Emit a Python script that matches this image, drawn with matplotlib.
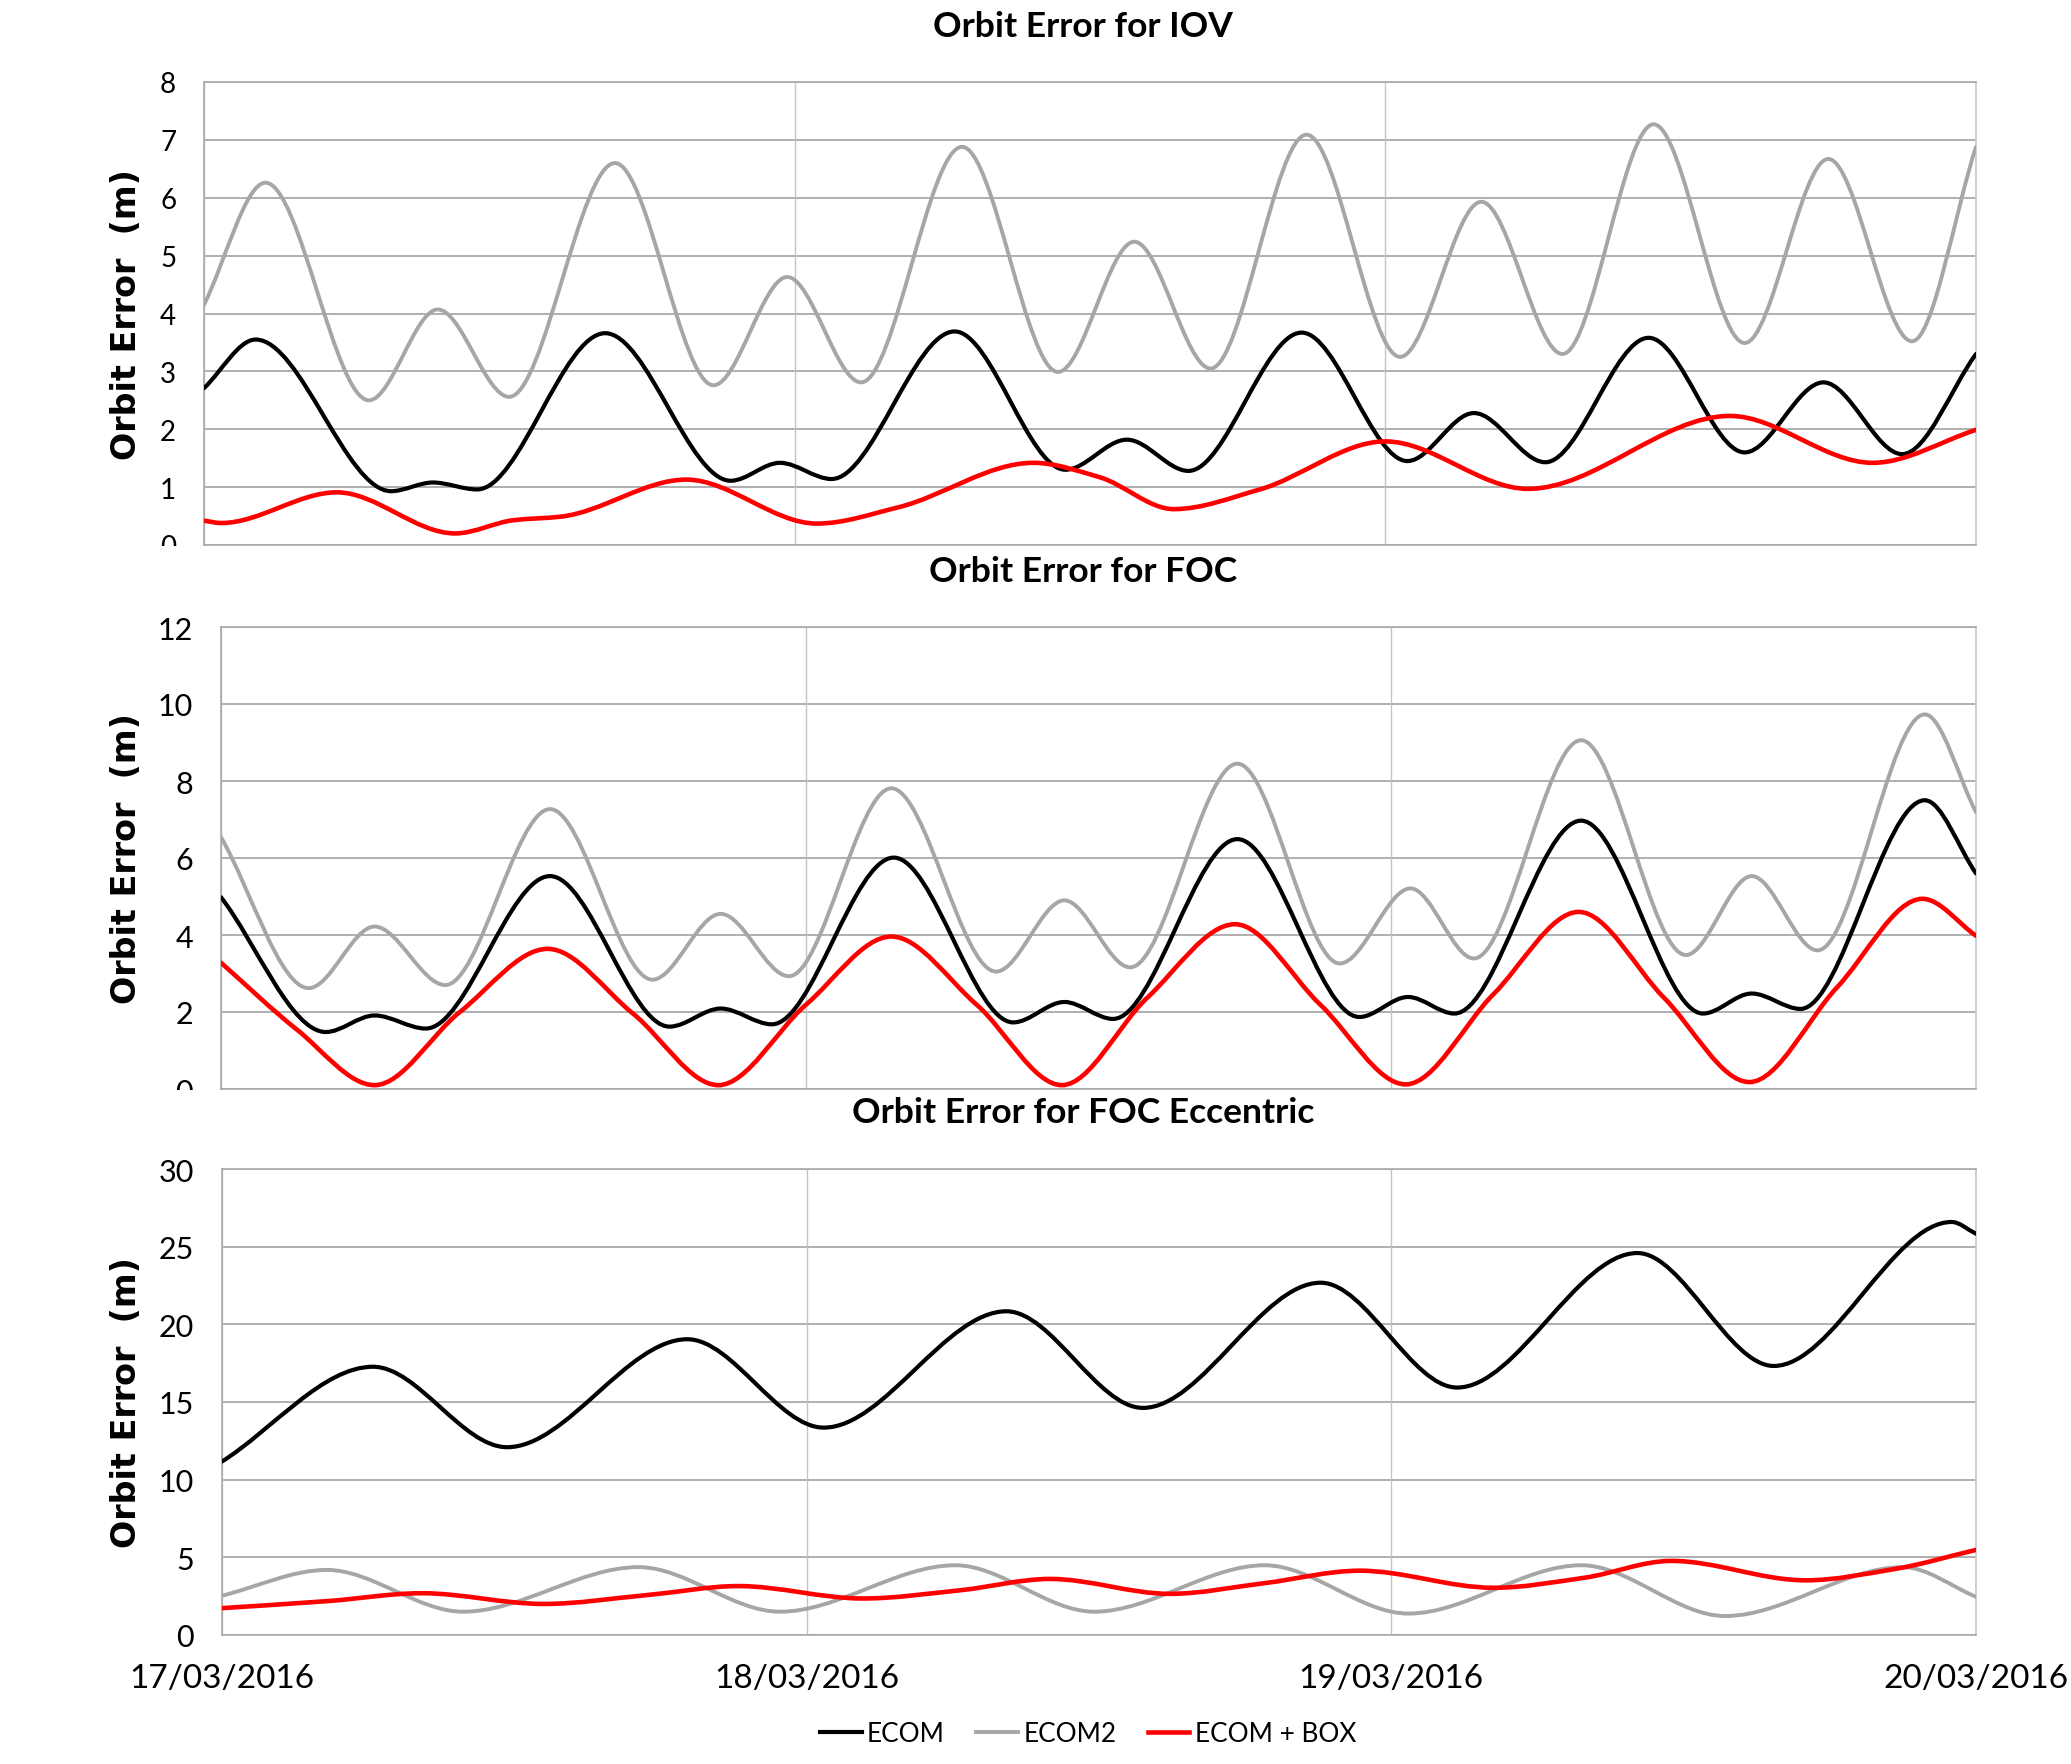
import numpy as np
import matplotlib
matplotlib.use("Agg")
import matplotlib.pyplot as plt
from matplotlib.path import Path
from matplotlib.patches import PathPatch
from matplotlib.lines import Line2D
from matplotlib.transforms import Bbox, TransformedBbox

# ---------------- data (time in hours since 17/03/2016 00:00) ----------------
date_labels = ["17/03/2016", "18/03/2016", "19/03/2016", "20/03/2016"]
date_hours = [0, 24, 48, 72]
series_names = ["ECOM", "ECOM2", "ECOM + BOX"]

# Panel 1: IOV
iov_ecom_t = [0, 2.1, 7.6, 9.3, 11.1, 16.3, 21.4, 23.4, 25.5, 30.5, 35.0, 37.5, 40.0,
              44.6, 48.9, 51.6, 54.5, 58.7, 62.6, 65.8, 69.0, 72]
iov_ecom_v = [2.71, 3.55, 0.93, 1.08, 0.96, 3.66, 1.11, 1.42, 1.14, 3.69, 1.30, 1.82, 1.28,
              3.67, 1.45, 2.28, 1.43, 3.58, 1.60, 2.81, 1.57, 3.30]
iov_ecom2_t = [0, 2.5, 6.7, 9.5, 12.4, 16.7, 20.7, 23.7, 26.7, 30.8, 34.7, 37.8, 40.9,
               44.8, 48.6, 51.9, 55.2, 58.9, 62.6, 66.0, 69.4, 72]
iov_ecom2_v = [4.15, 6.26, 2.50, 4.07, 2.56, 6.60, 2.76, 4.63, 2.81, 6.88, 2.99, 5.24, 3.05,
               7.09, 3.25, 5.93, 3.30, 7.27, 3.49, 6.67, 3.52, 6.88]
iov_box_t = [0, 0.7, 5.4, 10.2, 12.6, 14.5, 19.6, 24.9, 28.2, 33.7, 36.4, 39.4, 42.9,
             48.0, 53.8, 62.0, 67.8, 72]
iov_box_v = [0.42, 0.38, 0.91, 0.20, 0.43, 0.49, 1.13, 0.37, 0.65, 1.42, 1.17, 0.62, 0.96,
             1.79, 0.97, 2.23, 1.42, 1.99]

# Panel 2: FOC
foc_ecom_t = [0, 4.3, 6.3, 8.4, 13.5, 18.4, 20.5, 22.6, 27.6, 32.5, 34.6, 36.6, 41.7,
              46.7, 48.7, 50.6, 55.8, 60.8, 62.8, 64.8, 69.9, 72]
foc_ecom_v = [4.98, 1.48, 1.91, 1.57, 5.53, 1.62, 2.09, 1.68, 6.01, 1.73, 2.26, 1.82, 6.49,
              1.87, 2.39, 1.96, 6.97, 1.96, 2.48, 2.08, 7.50, 5.60]
foc_ecom2_t = [0, 3.6, 6.3, 9.2, 13.5, 17.7, 20.5, 23.3, 27.5, 31.8, 34.6, 37.3, 41.7,
               45.9, 48.8, 51.4, 55.8, 60.1, 62.8, 65.5, 69.9, 72]
foc_ecom2_v = [6.54, 2.62, 4.22, 2.70, 7.27, 2.84, 4.55, 2.93, 7.81, 3.05, 4.90, 3.16, 8.45,
               3.26, 5.21, 3.39, 9.06, 3.48, 5.53, 3.60, 9.73, 7.19]
foc_box_t = [0, 3.1, 6.3, 9.8, 13.4, 16.9, 20.4, 24.0, 27.5, 31.0, 34.5, 38.0, 41.6,
             45.1, 48.6, 52.2, 55.7, 59.2, 62.7, 66.3, 69.8, 72]
foc_box_v = [3.28, 1.55, 0.10, 2.00, 3.64, 1.96, 0.10, 2.19, 3.96, 2.19, 0.10, 2.37, 4.28,
             2.19, 0.12, 2.46, 4.60, 2.37, 0.18, 2.64, 4.94, 3.98]

# Panel 3: FOC Eccentric
ecc_ecom_t = [0, 6.2, 11.7, 19.1, 24.7, 32.2, 37.8, 45.1, 50.7, 58.1, 63.7, 71.0, 72]
ecc_ecom_v = [11.17, 17.27, 12.09, 19.04, 13.35, 20.84, 14.62, 22.68, 15.93, 24.59, 17.32,
              26.59, 25.83]
ecc_ecom2_t = [0, 4.3, 9.9, 17.1, 22.9, 30.1, 35.8, 42.8, 48.7, 55.8, 61.7, 69.0, 72]
ecc_ecom2_v = [2.53, 4.19, 1.50, 4.37, 1.50, 4.49, 1.50, 4.49, 1.38, 4.49, 1.22, 4.37, 2.46]
ecc_box_t = [0, 4.4, 8.2, 13.2, 17.5, 21.2, 26.3, 30.3, 34.0, 38.9, 42.8, 46.7, 52.2,
             55.9, 59.5, 65.0, 68.7, 72]
ecc_box_v = [1.73, 2.19, 2.69, 2.00, 2.58, 3.15, 2.35, 2.88, 3.61, 2.65, 3.34, 4.14, 3.04,
             3.68, 4.77, 3.52, 4.26, 5.48]

titles = ["Orbit Error for IOV", "Orbit Error for FOC", "Orbit Error for FOC Eccentric"]
y_ticks = [list(range(0, 9, 1)), list(range(0, 13, 2)), list(range(0, 31, 5))]
y_label = "Orbit Error  (m)"

# ---------------- style ----------------
COLORS = ["#000000", "#a6a6a6", "#ff0000"]
LWS = [3.0, 2.8, 3.3]
GRID_H = "#a9a9a9"
GRID_V = "#c4c4c4"
FONT = ["Lato", "DejaVu Sans"]

W, H = 2071, 1765
fig = plt.figure(figsize=(W / 100, H / 100), dpi=100)
fig.patch.set_facecolor("white")

# axes rectangles in pixels: left, top, right, bottom
rects_px = [(204, 83, 1976, 546), (221, 628, 1976, 1090), (222, 1170, 1976, 1636)]
title_y_px = [27, 572, 1113]
ytick_sizes = [20, 22, 22]


def smooth_path(xs, ys):
    """Smoothed line drawn as cubic Bezier segments through the data points
    (shape-preserving tangents, flat at local extrema)."""
    x = np.asarray(xs, float)
    y = np.asarray(ys, float)
    n = len(x)
    h = np.diff(x)
    d = np.diff(y) / h
    m = np.zeros(n)
    m[0] = d[0]
    m[-1] = d[-1]
    for k in range(1, n - 1):
        if d[k - 1] * d[k] > 0:
            w1 = 2 * h[k] + h[k - 1]
            w2 = h[k] + 2 * h[k - 1]
            m[k] = (w1 + w2) / (w1 / d[k - 1] + w2 / d[k])
    verts = [(x[0], y[0])]
    codes = [Path.MOVETO]
    for i in range(n - 1):
        hi = h[i] / 3.0
        verts += [(x[i] + hi, y[i] + m[i] * hi),
                  (x[i + 1] - hi, y[i + 1] - m[i + 1] * hi),
                  (x[i + 1], y[i + 1])]
        codes += [Path.CURVE4] * 3
    return Path(verts, codes)


panels = [
    [(iov_ecom_t, iov_ecom_v), (iov_ecom2_t, iov_ecom2_v), (iov_box_t, iov_box_v)],
    [(foc_ecom_t, foc_ecom_v), (foc_ecom2_t, foc_ecom2_v), (foc_box_t, foc_box_v)],
    [(ecc_ecom_t, ecc_ecom_v), (ecc_ecom2_t, ecc_ecom2_v), (ecc_box_t, ecc_box_v)],
]

for k, (rect, series) in enumerate(zip(rects_px, panels)):
    l, t, r, b = rect
    ax = fig.add_axes([l / W, 1 - b / H, (r - l) / W, (b - t) / H])
    ax.set_xlim(date_hours[0], date_hours[-1])
    ax.set_ylim(y_ticks[k][0], y_ticks[k][-1])
    ax.set_yticks(y_ticks[k])
    ax.set_xticks(date_hours)
    for yv in y_ticks[k]:
        ax.axhline(yv, color=GRID_H, lw=1.3, zorder=1)
    for xv in date_hours:
        ax.axvline(xv, color=GRID_V, lw=1.0, zorder=1)
    for sp in ax.spines.values():
        sp.set_color(GRID_H)
        sp.set_linewidth(1.2)
    ax.spines["right"].set_color("#c8c8c8")
    ax.tick_params(axis="both", length=0)
    ax.tick_params(axis="y", pad=20, labelsize=ytick_sizes[k])
    for lbl in ax.get_yticklabels():
        lbl.set_family(FONT)
    if k < 2:
        ax.set_xticklabels([])
        # the bottom "0" label is cut by the chart below it
        bb = TransformedBbox(Bbox([[0, 1 - (b + 1) / H], [l / W, 1]]), fig.transFigure)
        for lbl in ax.get_yticklabels():
            lbl.set_clip_box(bb)
            lbl.set_clip_on(True)
    else:
        ax.set_xticklabels(date_labels)
        ax.tick_params(axis="x", pad=20, labelsize=24)
        for lbl in ax.get_xticklabels():
            lbl.set_family(FONT)

    for (xs, ys), col, lw in zip(series, COLORS, LWS):
        patch = PathPatch(smooth_path(xs, ys), fill=False, edgecolor=col, lw=lw,
                          capstyle="round", joinstyle="round", zorder=3)
        ax.add_patch(patch)

    fig.text(1083 / W, 1 - title_y_px[k] / H, titles[k], ha="center", va="center",
             fontsize=25.5, fontweight="bold", family=FONT)
    fig.text(127 / W, 1 - ((t + b) / 2) / H, y_label, rotation=90, ha="center",
             va="center", fontsize=24, fontweight="bold", family=["DejaVu Sans"])

handles = [Line2D([], [], color=c, lw=lw) for c, lw in zip(COLORS, LWS)]
fig.legend(handles, series_names, loc="center", bbox_to_anchor=(1088 / W, 1 - 1735 / H),
           ncol=3, frameon=False, prop={"family": FONT, "size": 18.8},
           handlelength=1.6, handletextpad=0.2, columnspacing=1.2)

fig.savefig("out.png", dpi=100, facecolor="white")
